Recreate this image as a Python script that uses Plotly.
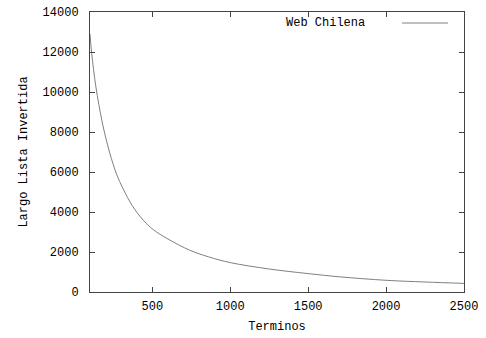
import plotly.graph_objects as go

terminos = [100, 111, 138, 176, 200, 228, 270, 313, 370, 442, 506, 600, 740, 860, 1000, 1250, 1500, 1700, 2000, 2250, 2500]
largo = [12900, 11920, 10250, 8585, 7750, 6920, 5900, 5150, 4330, 3585, 3120, 2650, 2090, 1760, 1470, 1150, 920, 760, 585, 500, 430]

x_ticks = [500, 1000, 1500, 2000, 2500]
y_ticks = [0, 2000, 4000, 6000, 8000, 10000, 12000, 14000]

font = dict(family="Liberation Mono, Courier New, monospace", size=12, color="#000")

fig = go.Figure()
fig.add_trace(go.Scatter(x=terminos, y=largo, mode="lines", name="Web Chilena",
                         line=dict(color="#808080", width=1, shape="spline", smoothing=1.0),
                         showlegend=False, hoverinfo="skip"))

axis_common = dict(showgrid=False, zeroline=False, showline=True, linecolor="#444", linewidth=1,
                   ticks="inside", ticklen=5, tickcolor="#444", mirror="allticks", tickfont=font,
                   automargin=False)

fig.update_xaxes(range=[100, 2500], tickvals=x_ticks, ticktext=[str(v) for v in x_ticks],
                 title=dict(text="Terminos", font=font, standoff=8), ticklabelstandoff=3, **axis_common)
fig.update_yaxes(range=[0, 14000], tickvals=y_ticks, ticktext=[str(v) for v in y_ticks],
                 title=dict(text="Largo Lista Invertida", font=font, standoff=12), ticklabelstandoff=8, **axis_common)

fig.add_annotation(xref="paper", yref="paper", x=(367-90)/374, y=(292-23)/280, text="Web Chilena",
                   showarrow=False, xanchor="right", yanchor="middle", font=font)
fig.add_shape(type="line", xref="paper", yref="paper", x0=(402-90)/374, x1=(448-90)/374,
              y0=(292-23)/280, y1=(292-23)/280, line=dict(color="#808080", width=1))

fig.update_layout(template="none", width=486, height=338, margin=dict(l=90, r=22, t=12, b=46),
                  paper_bgcolor="white", plot_bgcolor="white", font=font)
fig.write_html("out.html", config={"displayModeBar": False},
               post_script="document.body.style.margin='0';document.body.style.overflow='hidden';")
